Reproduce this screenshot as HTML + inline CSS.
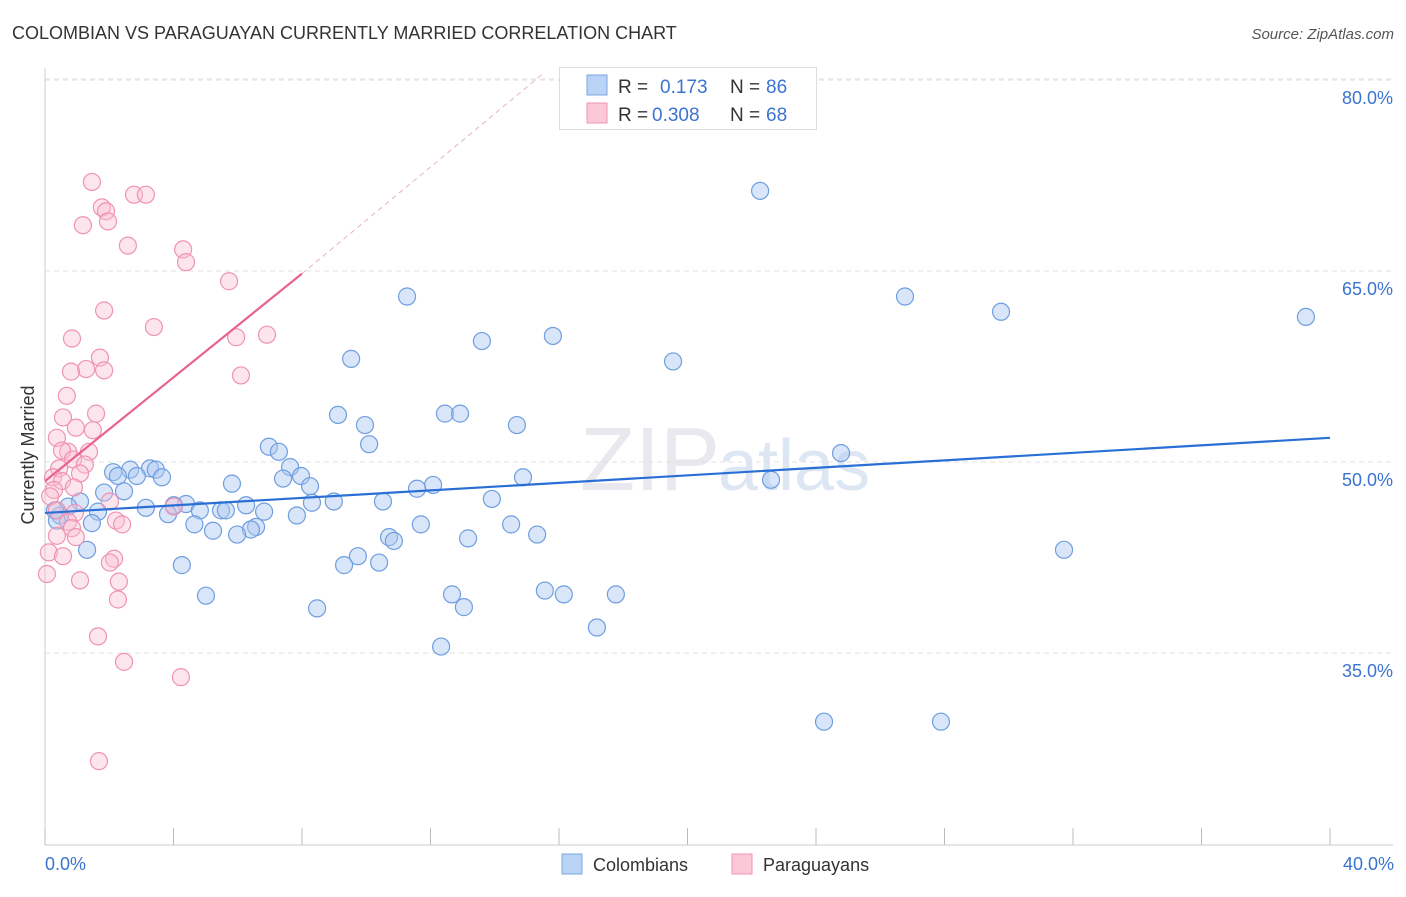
<!DOCTYPE html>
<html><head><meta charset="utf-8">
<style>
body{margin:0;background:#fff;font-family:"Liberation Sans",sans-serif;}
svg text{font-family:"Liberation Sans",sans-serif;}
</style></head>
<body>
<svg width="1406" height="892" xmlns="http://www.w3.org/2000/svg" id="chart">
<text x="12" y="39" font-size="18" fill="#333">COLOMBIAN VS PARAGUAYAN CURRENTLY MARRIED CORRELATION CHART</text>
<text x="1394" y="39" font-size="15" fill="#555" font-style="italic" text-anchor="end">Source: ZipAtlas.com</text>
<text x="720" y="490" font-size="90" fill="#e8e8ee" font-family="Liberation Serif" text-anchor="end">ZIP</text>
<text x="718" y="490" font-size="72" fill="#dde6f3">atlas</text>
<g id="grid"></g>
<g id="axes"></g>
<g id="marks"></g>
<text transform="translate(34,455) rotate(-90)" font-size="18" fill="#333" text-anchor="middle">Currently Married</text>
<text x="45" y="870" font-size="18" fill="#3b73d1">0.0%</text>
<text x="1394" y="870" font-size="18" fill="#3b73d1" text-anchor="end">40.0%</text>
<g>
<rect x="559.5" y="67.5" width="257" height="62" fill="#fff" stroke="#ddd"/>
<rect x="587" y="75" width="20" height="20" fill="#b8d3f5" stroke="#7aa6e0"/>
<rect x="587" y="103" width="20" height="20" fill="#fbc8d8" stroke="#ee94b2"/>
<text x="618" y="93" font-size="19" fill="#333">R = </text><text x="660" y="93" font-size="19" fill="#3b73d1">0.173</text>
<text x="730" y="93" font-size="19" fill="#333">N = </text><text x="766" y="93" font-size="19" fill="#3b73d1">86</text>
<text x="618" y="121" font-size="19" fill="#333">R = </text><text x="652" y="121" font-size="19" fill="#3b73d1">0.308</text>
<text x="730" y="121" font-size="19" fill="#333">N = </text><text x="766" y="121" font-size="19" fill="#3b73d1">68</text>
</g>
<g>
<rect x="562" y="854" width="20" height="20" fill="#b8d3f5" stroke="#7aa6e0"/>
<text x="593" y="871" font-size="18" fill="#333">Colombians</text>
<rect x="732" y="854" width="20" height="20" fill="#fbc8d8" stroke="#ee94b2"/>
<text x="763" y="871" font-size="18" fill="#333">Paraguayans</text>
</g>
</svg>
<script>
const yTicks=[35,50,65,80];
const xTicks=[0,4,8,12,16,20,24,28,32,36,40];
const colX=[22.26,11.27,26.77,29.76,39.25,13.6,15.81,9.53,19.55,9.12,12.45,12.92,9.96,14.69,10.09,6.97,7.28,24.78,7.63,7.97,7.41,14.88,22.6,2.12,2.65,3.27,3.45,3.64,2.86,2.27,5.82,8.25,12.08,11.58,2.46,1.84,1.09,13.91,8.99,8.31,10.52,6.26,4.39,4.01,3.14,4.82,5.48,5.63,6.82,3.83,1.65,0.72,0.47,0.31,7.84,1.46,0.37,4.65,5.23,6.57,6.41,5.98,11.7,14.51,15.32,10.71,10.86,13.17,1.31,31.72,9.74,10.4,9.31,4.26,15.56,16.15,17.77,12.67,5.01,13.04,8.47,17.18,12.33,24.25,27.89];
const colY=[71.3,63.0,63.0,61.8,61.4,59.5,59.9,58.1,57.9,53.7,53.8,53.8,52.9,52.9,51.4,51.2,50.8,50.7,49.6,48.9,48.7,48.8,48.6,49.2,49.4,49.5,49.4,48.8,48.9,48.9,48.3,48.1,48.2,47.9,47.7,47.6,46.9,47.1,46.9,46.8,46.9,46.6,46.7,46.6,46.4,46.2,46.2,46.2,46.1,45.9,46.1,46.5,45.8,46.2,45.8,45.2,45.4,45.1,44.6,44.9,44.7,44.3,45.1,45.1,44.3,44.1,43.8,44.0,43.1,43.1,42.6,42.1,41.9,41.9,39.9,39.6,39.6,39.6,39.5,38.6,38.5,37.0,35.5,29.6,29.6];
const parX=[1.46,2.77,3.14,1.77,1.9,1.96,1.18,2.58,4.3,4.39,5.73,1.84,3.39,5.95,6.91,0.84,1.71,1.28,1.84,0.81,6.1,0.68,1.59,0.56,1.49,0.96,0.37,0.72,1.37,0.53,0.87,1.24,0.44,1.09,0.25,0.53,0.28,0.9,0.16,2.02,0.93,4.01,0.37,2.21,2.4,0.72,0.84,0.37,0.96,0.12,0.56,2.15,2.02,0.06,1.09,2.3,2.27,1.65,2.46,4.23,1.68];
const parY=[72.0,71.0,71.0,70.0,69.7,68.9,68.6,67.0,66.7,65.7,64.2,61.9,60.6,59.8,60.0,59.7,58.2,57.3,57.2,57.1,56.8,55.2,53.8,53.5,52.5,52.7,51.9,50.8,50.8,50.9,50.2,49.8,49.5,49.1,48.8,48.5,47.8,48.0,47.3,46.9,46.0,46.5,46.2,45.4,45.1,45.3,44.8,44.2,44.1,42.9,42.6,42.4,42.1,41.2,40.7,40.6,39.2,36.3,34.3,33.1,26.5];
const colTrend=[0,46.0,40,51.9];
const parTrend=[0,48.5,8,64.8];
const parDash=[8,64.8,15.5,80.5];

const NS='http://www.w3.org/2000/svg';
const sx=v=>45+v*32.125;
const sy=v=>462-(v-50)*12.73;
function mk(tag,attrs,parent){const e=document.createElementNS(NS,tag);for(const k in attrs)e.setAttribute(k,attrs[k]);parent.appendChild(e);return e;}
const grid=document.getElementById('grid'),axes=document.getElementById('axes'),marks=document.getElementById('marks');
yTicks.forEach(t=>{
  const l=mk('line',{x1:45,x2:1393,y1:sy(t),y2:sy(t),stroke:'#e2e2e2','stroke-dasharray':'5,4'},grid);
  
  
  const tx=mk('text',{x:1393,y:sy(t)+24,'font-size':18,fill:'#3b73d1','text-anchor':'end'},grid);
  tx.textContent=t.toFixed(1)+'%';
  
  
});
const dl=mk('line',{x1:45,x2:1393,y1:79,y2:79,stroke:'#e2e2e2','stroke-dasharray':'5,4'},grid);
mk('line',{x1:45,x2:45,y1:68,y2:845,stroke:'#ccc'},axes);
mk('line',{x1:45,x2:1393,y1:845,y2:845,stroke:'#ccc'},axes);
xTicks.forEach(t=>{
  const l=mk('line',{x1:sx(t),x2:sx(t),y1:828,y2:845,stroke:'#bbb'},axes);
  
  
});
colX.forEach((v,i)=>{
  const c=mk('circle',{cx:sx(v),cy:sy(colY[i]),r:8.5,fill:'rgba(170,200,242,0.45)',stroke:'#6e9ee0','stroke-width':1.2},marks);
  
  
});
parX.forEach((v,i)=>{
  const c=mk('circle',{cx:sx(v),cy:sy(parY[i]),r:8.5,fill:'rgba(250,190,210,0.4)',stroke:'#ef93b3','stroke-width':1.2},marks);
  
  
});
const t1=mk('line',{x1:sx(colTrend[0]),y1:sy(colTrend[1]),x2:sx(colTrend[2]),y2:sy(colTrend[3]),stroke:'#2a6fd6','stroke-width':2.2},marks);


const t2=mk('line',{x1:sx(parTrend[0]),y1:sy(parTrend[1]),x2:sx(parTrend[2]),y2:sy(parTrend[3]),stroke:'#e8638f','stroke-width':2.2},marks);


const t3=mk('line',{x1:sx(parDash[0]),y1:sy(parDash[1]),x2:sx(parDash[2]),y2:sy(parDash[3]),stroke:'#e8b0c4','stroke-width':1,'stroke-dasharray':'5,4'},marks);


</script>
</body></html>
